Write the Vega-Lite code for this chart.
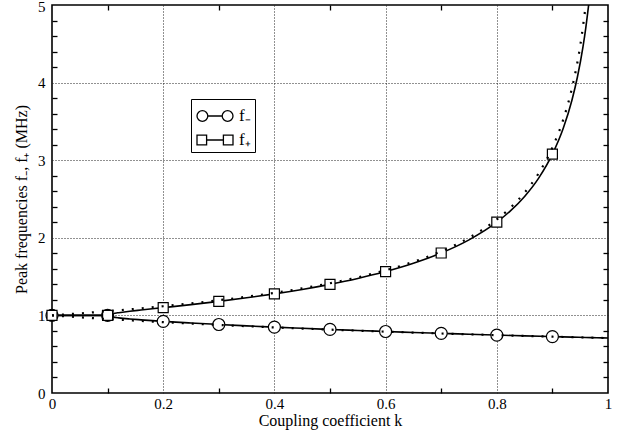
{
  "$schema": "https://vega.github.io/schema/vega-lite/v6.json",
  "width": 556,
  "height": 388,
  "autosize": {"type": "none"},
  "padding": {"left": 52, "top": 5, "right": 14, "bottom": 45},
  "background": "white",
  "config": {
    "font": "Liberation Serif",
    "view": {"stroke": "black", "strokeWidth": 1.6},
    "axis": {
      "domain": false,
      "labelFont": "Liberation Serif",
      "labelFontSize": 15,
      "labelColor": "black",
      "titleFont": "Liberation Serif",
      "titleFontSize": 16,
      "titleFontWeight": "normal",
      "titleColor": "black",
      "tickColor": "black",
      "tickWidth": 1.3,
      "tickSize": -5,
      "gridColor": "#222",
      "gridDash": [1, 2],
      "gridWidth": 1,
      "labelFlush": false,
      "labelOverlap": false
    },
    "legend": {
      "labelFont": "Liberation Serif",
      "labelFontSize": 17,
      "labelColor": "black",
      "strokeColor": "black",
      "fillColor": "white",
      "padding": 4,
      "rowPadding": 3,
      "symbolOffset": 7,
      "labelOffset": 11
    }
  },
  "datasets": {
    "solid": [
      {"k": 0, "f": 1, "s": "minus"},
      {"k": 0.1, "f": 1, "s": "minus"},
      {"k": 0.105, "f": 0.98436, "s": "minus"},
      {"k": 0.11, "f": 0.97784, "s": "minus"},
      {"k": 0.12, "f": 0.9684, "s": "minus"},
      {"k": 0.14, "f": 0.95434, "s": "minus"},
      {"k": 0.16, "f": 0.94285, "s": "minus"},
      {"k": 0.2, "f": 0.92325, "s": "minus"},
      {"k": 0.25, "f": 0.90199, "s": "minus"},
      {"k": 0.3, "f": 0.8829, "s": "minus"},
      {"k": 0.35, "f": 0.86535, "s": "minus"},
      {"k": 0.4, "f": 0.84902, "s": "minus"},
      {"k": 0.45, "f": 0.8337, "s": "minus"},
      {"k": 0.5, "f": 0.81926, "s": "minus"},
      {"k": 0.55, "f": 0.80561, "s": "minus"},
      {"k": 0.6, "f": 0.79265, "s": "minus"},
      {"k": 0.65, "f": 0.78034, "s": "minus"},
      {"k": 0.7, "f": 0.76859, "s": "minus"},
      {"k": 0.75, "f": 0.75738, "s": "minus"},
      {"k": 0.8, "f": 0.74666, "s": "minus"},
      {"k": 0.85, "f": 0.73639, "s": "minus"},
      {"k": 0.9, "f": 0.72654, "s": "minus"},
      {"k": 0.935, "f": 0.71988, "s": "minus"},
      {"k": 0.96, "f": 0.71524, "s": "minus"},
      {"k": 0.98, "f": 0.71159, "s": "minus"},
      {"k": 1.0, "f": 0.70799, "s": "minus"},
      {"k": 0, "f": 1, "s": "plus"},
      {"k": 0.1, "f": 1, "s": "plus"},
      {"k": 0.105, "f": 1.01641, "s": "plus"},
      {"k": 0.11, "f": 1.02373, "s": "plus"},
      {"k": 0.12, "f": 1.03491, "s": "plus"},
      {"k": 0.14, "f": 1.05291, "s": "plus"},
      {"k": 0.16, "f": 1.06899, "s": "plus"},
      {"k": 0.2, "f": 1.09977, "s": "plus"},
      {"k": 0.25, "f": 1.13896, "s": "plus"},
      {"k": 0.3, "f": 1.18083, "s": "plus"},
      {"k": 0.35, "f": 1.22665, "s": "plus"},
      {"k": 0.4, "f": 1.27754, "s": "plus"},
      {"k": 0.45, "f": 1.33482, "s": "plus"},
      {"k": 0.5, "f": 1.40014, "s": "plus"},
      {"k": 0.55, "f": 1.47575, "s": "plus"},
      {"k": 0.6, "f": 1.5648, "s": "plus"},
      {"k": 0.65, "f": 1.67193, "s": "plus"},
      {"k": 0.7, "f": 1.80427, "s": "plus"},
      {"k": 0.75, "f": 1.97374, "s": "plus"},
      {"k": 0.8, "f": 2.20181, "s": "plus"},
      {"k": 0.825, "f": 2.34998, "s": "plus"},
      {"k": 0.85, "f": 2.53267, "s": "plus"},
      {"k": 0.875, "f": 2.76575, "s": "plus"},
      {"k": 0.9, "f": 3.07773, "s": "plus"},
      {"k": 0.92, "f": 3.42091, "s": "plus"},
      {"k": 0.935, "f": 3.76966, "s": "plus"},
      {"k": 0.945, "f": 4.07198, "s": "plus"},
      {"k": 0.955, "f": 4.46101, "s": "plus"},
      {"k": 0.96, "f": 4.70261, "s": "plus"},
      {"k": 0.9652, "f": 5.0, "s": "plus"}
    ],
    "dotted": [
      {"k": 0, "f": 1, "s": "minus"},
      {"k": 0.05, "f": 0.9759, "s": "minus"},
      {"k": 0.1, "f": 0.95346, "s": "minus"},
      {"k": 0.15, "f": 0.9325, "s": "minus"},
      {"k": 0.2, "f": 0.91287, "s": "minus"},
      {"k": 0.3, "f": 0.87706, "s": "minus"},
      {"k": 0.4, "f": 0.84515, "s": "minus"},
      {"k": 0.5, "f": 0.8165, "s": "minus"},
      {"k": 0.6, "f": 0.79057, "s": "minus"},
      {"k": 0.7, "f": 0.76696, "s": "minus"},
      {"k": 0.8, "f": 0.74536, "s": "minus"},
      {"k": 0.9, "f": 0.72548, "s": "minus"},
      {"k": 1.0, "f": 0.70711, "s": "minus"},
      {"k": 0, "f": 1, "s": "plus"},
      {"k": 0.05, "f": 1.02598, "s": "plus"},
      {"k": 0.1, "f": 1.05409, "s": "plus"},
      {"k": 0.15, "f": 1.08465, "s": "plus"},
      {"k": 0.2, "f": 1.11803, "s": "plus"},
      {"k": 0.25, "f": 1.1547, "s": "plus"},
      {"k": 0.3, "f": 1.19523, "s": "plus"},
      {"k": 0.35, "f": 1.24035, "s": "plus"},
      {"k": 0.4, "f": 1.29099, "s": "plus"},
      {"k": 0.45, "f": 1.3484, "s": "plus"},
      {"k": 0.5, "f": 1.41421, "s": "plus"},
      {"k": 0.55, "f": 1.49071, "s": "plus"},
      {"k": 0.6, "f": 1.58114, "s": "plus"},
      {"k": 0.65, "f": 1.69031, "s": "plus"},
      {"k": 0.7, "f": 1.82574, "s": "plus"},
      {"k": 0.75, "f": 2.0, "s": "plus"},
      {"k": 0.8, "f": 2.23607, "s": "plus"},
      {"k": 0.825, "f": 2.39046, "s": "plus"},
      {"k": 0.85, "f": 2.58199, "s": "plus"},
      {"k": 0.875, "f": 2.82843, "s": "plus"},
      {"k": 0.9, "f": 3.16228, "s": "plus"},
      {"k": 0.92, "f": 3.53553, "s": "plus"},
      {"k": 0.935, "f": 3.92232, "s": "plus"},
      {"k": 0.95, "f": 4.47214, "s": "plus"},
      {"k": 0.96, "f": 5.0, "s": "plus"}
    ],
    "markers": [
      {"k": 0, "f": 1, "s": "minus"},
      {"k": 0.1, "f": 1, "s": "minus"},
      {"k": 0.2, "f": 0.92325, "s": "minus"},
      {"k": 0.3, "f": 0.8829, "s": "minus"},
      {"k": 0.4, "f": 0.84902, "s": "minus"},
      {"k": 0.5, "f": 0.81926, "s": "minus"},
      {"k": 0.6, "f": 0.79265, "s": "minus"},
      {"k": 0.7, "f": 0.76859, "s": "minus"},
      {"k": 0.8, "f": 0.74666, "s": "minus"},
      {"k": 0.9, "f": 0.72654, "s": "minus"},
      {"k": 0, "f": 1, "s": "plus"},
      {"k": 0.1, "f": 1, "s": "plus"},
      {"k": 0.2, "f": 1.09977, "s": "plus"},
      {"k": 0.3, "f": 1.18083, "s": "plus"},
      {"k": 0.4, "f": 1.27754, "s": "plus"},
      {"k": 0.5, "f": 1.40014, "s": "plus"},
      {"k": 0.6, "f": 1.5648, "s": "plus"},
      {"k": 0.7, "f": 1.80427, "s": "plus"},
      {"k": 0.8, "f": 2.20181, "s": "plus"},
      {"k": 0.9, "f": 3.07773, "s": "plus"}
    ]
  },
  "resolve": {"axis": {"x": "independent", "y": "independent"}, "scale": {"shape": "independent"}},
  "layer": [
    {
      "data": {"name": "solid"},
      "mark": {"type": "line", "color": "black", "strokeWidth": 1.6, "interpolate": "monotone"},
      "encoding": {
        "x": {
          "field": "k", "type": "quantitative",
          "scale": {"domain": [0, 1], "nice": false, "zero": false},
          "axis": {
            "orient": "bottom",
            "title": "Coupling coefficient k",
            "titlePadding": 1,
            "values": [0, 0.1, 0.2, 0.3, 0.4, 0.5, 0.6, 0.7, 0.8, 0.9, 1],
            "format": "~g",
            "labelExpr": "round(datum.value*10)%2==0 ? datum.label : ''",
            "labelPadding": 8,
            "grid": true,
            "gridOpacity": {"condition": {"test": "round(datum.value*10)%2==0 && datum.value>0.01 && datum.value<0.99", "value": 1}, "value": 0},
            "tickOpacity": {"condition": {"test": "round(datum.value*10)%2==1", "value": 1}, "value": 0}
          }
        },
        "y": {
          "field": "f", "type": "quantitative",
          "scale": {"domain": [0, 5], "nice": false, "zero": false},
          "axis": {
            "orient": "left",
            "title": "Peak frequencies f₋, f₊ (MHz)",
            "titlePadding": 8,
            "values": [0, 0.2, 0.4, 0.6, 0.8, 1, 1.2, 1.4, 1.6, 1.8, 2, 2.2, 2.4, 2.6, 2.8, 3, 3.2, 3.4, 3.6, 3.8, 4, 4.2, 4.4, 4.6, 4.8, 5],
            "format": "~g",
            "labelExpr": "abs(datum.value-round(datum.value))<0.01 ? datum.label : ''",
            "labelPadding": 12,
            "labelOffset": {"condition": {"test": "datum.value > 4.9", "value": 1.5}, "value": 0},
            "grid": true,
            "gridOpacity": {"condition": {"test": "abs(datum.value-round(datum.value))<0.01 && datum.value>0.5 && datum.value<4.5", "value": 1}, "value": 0},
            "tickOpacity": {"condition": {"test": "abs(datum.value-round(datum.value))>0.01", "value": 1}, "value": 0}
          }
        },
        "detail": {"field": "s", "type": "nominal"}
      }
    },
    {
      "data": {"name": "markers"},
      "transform": [{"filter": "datum.s == 'minus'"}],
      "mark": {"type": "point", "shape": "circle", "filled": true, "fill": "white", "stroke": "black", "strokeWidth": 1.2, "size": 144, "opacity": 1},
      "encoding": {
        "x": {
          "field": "k", "type": "quantitative",
          "axis": {
            "orient": "top", "title": null, "labels": false, "grid": false,
            "values": [0, 0.1, 0.2, 0.3, 0.4, 0.5, 0.6, 0.7, 0.8, 0.9, 1],
            "tickOpacity": {"condition": {"test": "round(datum.value*10)%2==1", "value": 1}, "value": 0}
          }
        },
        "y": {
          "field": "f", "type": "quantitative",
          "axis": {
            "orient": "right", "title": null, "labels": false, "grid": false,
            "values": [0, 0.2, 0.4, 0.6, 0.8, 1, 1.2, 1.4, 1.6, 1.8, 2, 2.2, 2.4, 2.6, 2.8, 3, 3.2, 3.4, 3.6, 3.8, 4, 4.2, 4.4, 4.6, 4.8, 5],
            "tickOpacity": {"condition": {"test": "abs(datum.value-round(datum.value))>0.01", "value": 1}, "value": 0}
          }
        }
      }
    },
    {
      "data": {"name": "markers"},
      "transform": [{"filter": "datum.s == 'plus'"}],
      "mark": {"type": "point", "shape": "square", "filled": true, "fill": "white", "stroke": "black", "strokeWidth": 1.2, "size": 100, "opacity": 1},
      "encoding": {
        "x": {"field": "k", "type": "quantitative", "axis": null},
        "y": {"field": "f", "type": "quantitative", "axis": null}
      }
    },
    {
      "data": {"name": "dotted"},
      "mark": {"type": "line", "color": "black", "strokeWidth": 2.2, "strokeDash": [2, 8], "interpolate": "monotone"},
      "encoding": {
        "x": {"field": "k", "type": "quantitative", "axis": null},
        "y": {"field": "f", "type": "quantitative", "axis": null},
        "detail": {"field": "s", "type": "nominal"}
      }
    },
    {
      "data": {"name": "markers"},
      "transform": [{"filter": "datum.k > 100"}],
      "mark": {"type": "point", "size": 576, "color": "black", "filled": false, "strokeWidth": 1.3, "opacity": 1},
      "encoding": {
        "x": {"field": "k", "type": "quantitative", "axis": null},
        "y": {"field": "f", "type": "quantitative", "axis": null},
        "shape": {
          "field": "s", "type": "nominal",
          "scale": {
            "domain": ["minus", "plus"],
            "range": [
              "M -1.5 0 A 0.45 0.45 0 1 0 -0.6 0 A 0.45 0.45 0 1 0 -1.5 0 Z M -0.6 0 L 0.6 0 M 0.6 0 A 0.45 0.45 0 1 0 1.5 0 A 0.45 0.45 0 1 0 0.6 0 Z",
              "M -1.5 -0.4 L -0.7 -0.4 L -0.7 0.4 L -1.5 0.4 Z M -0.7 0 L 0.7 0 M 0.7 -0.4 L 1.5 -0.4 L 1.5 0.4 L 0.7 0.4 Z"
            ]
          },
          "legend": {
            "title": null,
            "orient": "none",
            "legendX": 139,
            "legendY": 94,
            "symbolSize": 576,
            "symbolStrokeColor": "black",
            "symbolFillColor": "white",
            "symbolOpacity": 1,
            "symbolStrokeWidth": 1.3,
            "labelFontSize": 17,
            "labelExpr": "datum.value == 'minus' ? 'f₋' : 'f₊'"
          }
        }
      }
    }
  ]
}
